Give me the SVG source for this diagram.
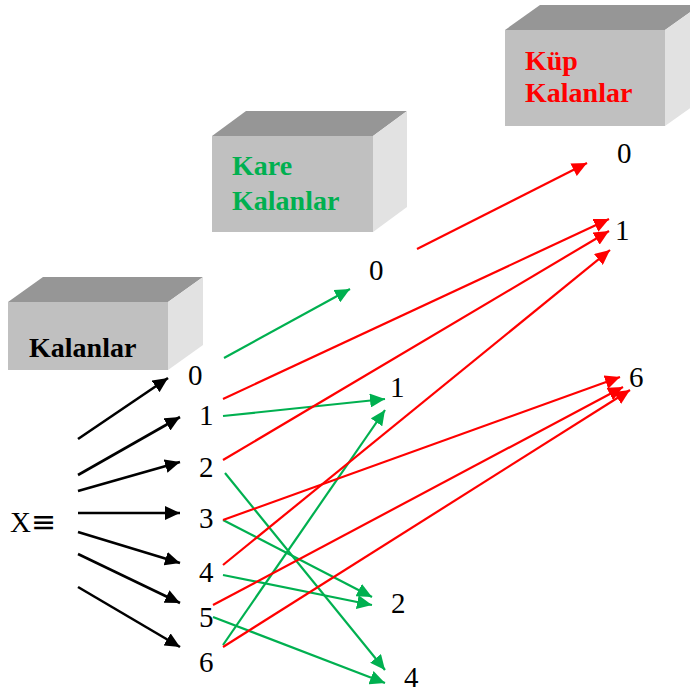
<svg xmlns="http://www.w3.org/2000/svg" width="690" height="693" viewBox="0 0 690 693">
<style>
.front{fill:#c0c0c0}
.top{fill:#969696}
.side{fill:#e2e2e2}
.lbl{font-family:"Liberation Serif","Times New Roman",serif;font-weight:bold;font-size:28px}
.num{font-family:"Liberation Serif","Times New Roman",serif;font-size:29px;fill:#000}
.blk{stroke:#000;stroke-width:2.6;fill:none}
.grn{stroke:#00b050;stroke-width:2.2;fill:none}
.red{stroke:#ff0000;stroke-width:2.2;fill:none}
</style>
<defs>
<marker id="ab" markerUnits="userSpaceOnUse" markerWidth="16" markerHeight="14" refX="15" refY="7" orient="auto"><path d="M0,0 L15,7 L0,14 z" fill="#000"/></marker>
<marker id="ag" markerUnits="userSpaceOnUse" markerWidth="16" markerHeight="14" refX="15" refY="7" orient="auto"><path d="M0,0 L15,7 L0,14 z" fill="#00b050"/></marker>
<marker id="ar" markerUnits="userSpaceOnUse" markerWidth="16" markerHeight="14" refX="15" refY="7" orient="auto"><path d="M0,0 L15,7 L0,14 z" fill="#ff0000"/></marker>
</defs>
<rect width="690" height="693" fill="#fff"/>
<g id="box-kalanlar">
<polygon class="top" points="8,302 43,277 203,277 168,302"/>
<polygon class="side" points="168,302 203,277 203,345 168,370"/>
<rect class="front" x="8" y="302" width="160" height="68"/>
<text class="lbl" x="29" y="357" fill="#000">Kalanlar</text>
</g>
<g id="box-kare">
<polygon class="top" points="212,136 246,111 407,111 373,136"/>
<polygon class="side" points="373,136 407,111 407,207 373,232"/>
<rect class="front" x="212" y="136" width="161" height="96"/>
<text class="lbl" x="232" y="175" fill="#00b050">Kare</text>
<text class="lbl" x="232" y="210" fill="#00b050">Kalanlar</text>
</g>
<g id="box-kup">
<polygon class="top" points="505,30 540,5 700,5 665,30"/>
<polygon class="side" points="665,30 700,5 700,101 665,126"/>
<rect class="front" x="505" y="30" width="160" height="96"/>
<text class="lbl" x="525" y="70" fill="#ff0000">Küp</text>
<text class="lbl" x="525" y="102" fill="#ff0000">Kalanlar</text>
</g>
<g id="x-label"><text class="num" x="10" y="532">X<tspan font-family="'DejaVu Sans',sans-serif" font-size="30">≡</tspan></text></g>
<g id="left-nums">
<text class="num" x="188" y="385">0</text>
<text class="num" x="199" y="425">1</text>
<text class="num" x="199" y="477">2</text>
<text class="num" x="199" y="528">3</text>
<text class="num" x="199" y="582">4</text>
<text class="num" x="199" y="627">5</text>
<text class="num" x="199" y="672">6</text>
</g>
<g id="kare-nums">
<text class="num" x="369" y="280">0</text>
<text class="num" x="390" y="397">1</text>
<text class="num" x="391" y="613">2</text>
<text class="num" x="404" y="687">4</text>
</g>
<g id="kup-nums">
<text class="num" x="617" y="163">0</text>
<text class="num" x="615" y="240">1</text>
<text class="num" x="629" y="387">6</text>
</g>
<g id="connectors">
<line class="blk" x1="78" y1="439" x2="168" y2="378" marker-end="url(#ab)"/>
<line class="blk" x1="78" y1="475" x2="180" y2="417" marker-end="url(#ab)"/>
<line class="blk" x1="78" y1="491" x2="180" y2="462" marker-end="url(#ab)"/>
<line class="blk" x1="78" y1="513" x2="180" y2="513" marker-end="url(#ab)"/>
<line class="blk" x1="78" y1="532" x2="180" y2="563" marker-end="url(#ab)"/>
<line class="blk" x1="78" y1="554" x2="180" y2="603" marker-end="url(#ab)"/>
<line class="blk" x1="78" y1="587" x2="180" y2="647" marker-end="url(#ab)"/>
<line class="grn" x1="224" y1="358" x2="350" y2="289" marker-end="url(#ag)"/>
<line class="grn" x1="223" y1="416" x2="385" y2="399" marker-end="url(#ag)"/>
<line class="grn" x1="223" y1="645" x2="385" y2="410" marker-end="url(#ag)"/>
<line class="grn" x1="225" y1="473" x2="385" y2="670" marker-end="url(#ag)"/>
<line class="grn" x1="223" y1="520" x2="372" y2="597" marker-end="url(#ag)"/>
<line class="grn" x1="223" y1="575" x2="372" y2="605" marker-end="url(#ag)"/>
<line class="grn" x1="213" y1="617" x2="385" y2="683" marker-end="url(#ag)"/>
<line class="red" x1="417" y1="249" x2="587" y2="163" marker-end="url(#ar)"/>
<line class="red" x1="223" y1="399" x2="609" y2="219" marker-end="url(#ar)"/>
<line class="red" x1="223" y1="460" x2="609" y2="231" marker-end="url(#ar)"/>
<line class="red" x1="223" y1="565" x2="610" y2="250" marker-end="url(#ar)"/>
<line class="red" x1="223" y1="520" x2="620" y2="377" marker-end="url(#ar)"/>
<line class="red" x1="213" y1="605" x2="623" y2="387" marker-end="url(#ar)"/>
<line class="red" x1="223" y1="647" x2="630" y2="390" marker-end="url(#ar)"/>
</g>
</svg>
